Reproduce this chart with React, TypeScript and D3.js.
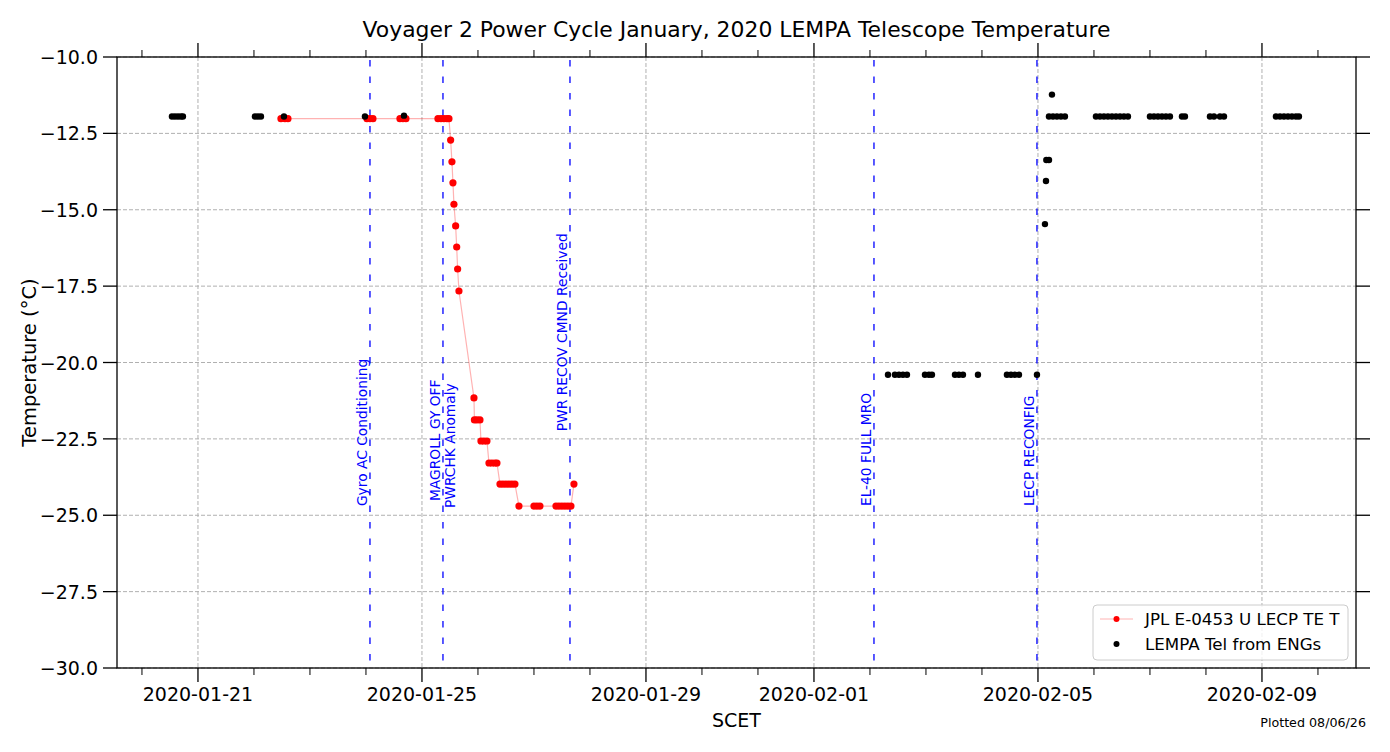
import * as d3 from 'd3';
import React from 'react';

// JPL E-0453 U LECP TE T (red, connected)
const jplTimes = [
  '2020-01-22T11:34', '2020-01-22T13:17', '2020-01-22T14:34',
  '2020-01-24T00:26', '2020-01-24T01:43', '2020-01-24T03:00',
  '2020-01-24T14:34', '2020-01-24T15:51', '2020-01-24T17:08',
  '2020-01-25T06:51', '2020-01-25T08:08', '2020-01-25T09:25', '2020-01-25T10:42', '2020-01-25T11:34',
  '2020-01-25T12:17', '2020-01-25T12:51', '2020-01-25T13:17', '2020-01-25T13:42',
  '2020-01-25T14:26', '2020-01-25T14:53', '2020-01-25T15:17', '2020-01-25T15:51',
  '2020-01-25T22:17', '2020-01-25T22:29', '2020-01-25T23:34', '2020-01-26T00:51',
  '2020-01-26T01:17', '2020-01-26T02:34', '2020-01-26T03:51',
  '2020-01-26T04:43', '2020-01-26T06:00', '2020-01-26T07:17', '2020-01-26T08:08',
  '2020-01-26T09:26', '2020-01-26T10:42', '2020-01-26T12:00', '2020-01-26T13:17', '2020-01-26T14:34', '2020-01-26T15:51',
  '2020-01-26T17:34',
  '2020-01-27T00:00', '2020-01-27T01:17', '2020-01-27T02:34',
  '2020-01-27T09:26', '2020-01-27T10:42', '2020-01-27T12:00', '2020-01-27T13:17', '2020-01-27T14:34', '2020-01-27T15:51',
  '2020-01-27T17:08',
];
const jplTemps = [
  -12.02, -12.02, -12.02,
  -12.02, -12.02, -12.02,
  -12.02, -12.02, -12.02,
  -12.02, -12.02, -12.02, -12.02, -12.02,
  -12.72, -13.43, -14.12, -14.82,
  -15.53, -16.22, -16.94, -17.66,
  -21.16, -21.88, -21.88, -21.88,
  -22.57, -22.57, -22.57,
  -23.29, -23.29, -23.29, -23.29,
  -23.98, -23.98, -23.98, -23.98, -23.98, -23.98,
  -24.7,
  -24.7, -24.7, -24.7,
  -24.7, -24.7, -24.7, -24.7, -24.7, -24.7,
  -23.98,
];

// LEMPA Tel from ENGs (black dots)
const engTimes = [
  '2020-01-20T12:51', '2020-01-20T14:08', '2020-01-20T15:26', '2020-01-20T16:43', '2020-01-20T17:34',
  '2020-01-22T00:26', '2020-01-22T01:43', '2020-01-22T03:00',
  '2020-01-22T12:51', '2020-01-23T23:34', '2020-01-24T16:17',
  '2020-02-02T07:43', '2020-02-02T10:42', '2020-02-02T12:26', '2020-02-02T14:08', '2020-02-02T15:51',
  '2020-02-02T23:34', '2020-02-03T01:17', '2020-02-03T02:34',
  '2020-02-03T12:26', '2020-02-03T14:08', '2020-02-03T15:51', '2020-02-03T22:17',
  '2020-02-04T10:42', '2020-02-04T12:26', '2020-02-04T14:08', '2020-02-04T15:51', '2020-02-04T23:34',
  '2020-02-05T03:00', '2020-02-05T03:26', '2020-02-05T03:35', '2020-02-05T04:43',
  '2020-02-05T04:43', '2020-02-05T06:00', '2020-02-05T06:26', '2020-02-05T08:08', '2020-02-05T09:51', '2020-02-05T11:34',
  '2020-02-06T00:51', '2020-02-06T02:34', '2020-02-06T04:17', '2020-02-06T06:00', '2020-02-06T07:43',
  '2020-02-06T09:26', '2020-02-06T11:09', '2020-02-06T12:51', '2020-02-06T14:34',
  '2020-02-07T00:00', '2020-02-07T01:43', '2020-02-07T03:26', '2020-02-07T05:09', '2020-02-07T06:51', '2020-02-07T08:34',
  '2020-02-07T13:43', '2020-02-07T15:00',
  '2020-02-08T01:43', '2020-02-08T03:26', '2020-02-08T06:00', '2020-02-08T07:43',
  '2020-02-09T06:00', '2020-02-09T07:43', '2020-02-09T09:26', '2020-02-09T11:09', '2020-02-09T12:51', '2020-02-09T14:34', '2020-02-09T15:51',
];
const engTemps = [
  -11.95, -11.95, -11.95, -11.95, -11.95,
  -11.95, -11.95, -11.95,
  -11.95, -11.95, -11.92,
  -20.4, -20.4, -20.4, -20.4, -20.4,
  -20.4, -20.4, -20.4,
  -20.4, -20.4, -20.4, -20.4,
  -20.4, -20.4, -20.4, -20.4, -20.4,
  -15.47, -14.06, -13.37, -13.37,
  -11.95, -11.23, -11.95, -11.95, -11.95, -11.95,
  -11.95, -11.95, -11.95, -11.95, -11.95,
  -11.95, -11.95, -11.95, -11.95,
  -11.95, -11.95, -11.95, -11.95, -11.95, -11.95,
  -11.95, -11.95,
  -11.95, -11.95, -11.95, -11.95,
  -11.95, -11.95, -11.95, -11.95, -11.95, -11.95, -11.95,
];

const eventTimes = ['2020-01-24T01:43', '2020-01-25T09:00', '2020-01-27T15:26', '2020-02-02T01:43', '2020-02-04T23:34'];
const eventLabels = [['Gyro AC Conditioning'], ['MAGROLL GY OFF', 'PWRCHK Anomaly'], ['PWR RECOV CMND Received'], ['EL-40 FULL MRO'], ['LECP  RECONFIG']];
const eventLabelAt = [-24.7, -24.7, -22.25, -24.7, -24.7];

const xTickDates = ['2020-01-21', '2020-01-25', '2020-01-29', '2020-02-01', '2020-02-05', '2020-02-09'];
const yTickValues = [-10, -12.5, -15, -17.5, -20, -22.5, -25, -27.5, -30];

const W = 1390;
const H = 752;
const M = { left: 117, right: 1356, top: 57, bottom: 668 };
const FONT = 'DejaVu Sans, sans-serif';
const TICK_FS = 19;

const parse = (s: string) => new Date(s.length === 10 ? s + 'T00:00Z' : s + 'Z');

export default function App() {
  const x = d3
    .scaleUtc()
    .domain([parse('2020-01-19T13:18'), parse('2020-02-10T16:18')])
    .range([M.left, M.right]);
  const y = d3.scaleLinear().domain([-30, -10]).range([M.bottom, M.top]);

  const majors = xTickDates.map(parse);
  const minors = d3.utcDay.range(x.domain()[0], x.domain()[1]).filter(
    (d) => !majors.some((m) => +m === +d)
  );

  const jpl = jplTimes.map((t, i) => [x(parse(t)), y(jplTemps[i])] as [number, number]);
  const eng = engTimes.map((t, i) => [x(parse(t)), y(engTemps[i])] as [number, number]);
  const line = d3.line();
  const fmt = (v: number) => d3.format('.1f')(v).replace('-', '\u2212');

  return (
    <svg width={W} height={H} style={{ position: 'absolute', left: 0, top: 0 }} fontFamily={FONT}>
      <rect width={W} height={H} fill="#fff" />
      {/* grid */}
      {majors.map((d, i) => (
        <line key={'gx' + i} x1={x(d)} x2={x(d)} y1={M.top} y2={M.bottom} stroke="#b0b0b0" strokeDasharray="4,2" strokeWidth={1} />
      ))}
      {yTickValues.map((v, i) => (
        <line key={'gy' + i} x1={M.left} x2={M.right} y1={y(v)} y2={y(v)} stroke="#b0b0b0" strokeDasharray="4,2" strokeWidth={1} />
      ))}
      {/* event lines */}
      {eventTimes.map((t, i) => {
        const ex = x(parse(t));
        return (
          <g key={'ev' + i}>
            <line x1={ex} x2={ex} y1={M.top} y2={M.bottom} stroke="#0000ff" strokeWidth={1.3} strokeDasharray="6.5,10" strokeDashoffset={-3} />
            {eventLabels[i].map((lab, j) => {
              const n = eventLabels[i].length;
              const bx = n === 1 ? ex - 3 : ex - 3 + (j === 0 ? 0 : 15);
              const by = y(eventLabelAt[i]) + (n === 1 ? 0 : j === 0 ? -5 : 2);
              return (
                <text key={j} transform={`translate(${bx},${by}) rotate(-90)`} fill="#0000ff" fontSize={13.8}>
                  {lab}
                </text>
              );
            })}
          </g>
        );
      })}
      {/* series */}
      <path d={line(jpl) || ''} fill="none" stroke="rgba(255,0,0,0.3)" strokeWidth={1.2} />
      {jpl.map((p, i) => (
        <circle key={'j' + i} cx={p[0]} cy={p[1]} r={3.6} fill="#ff0000" />
      ))}
      {eng.map((p, i) => (
        <circle key={'e' + i} cx={p[0]} cy={p[1]} r={3.2} fill="#000" />
      ))}
      {/* spines */}
      <rect x={M.left} y={M.top} width={M.right - M.left} height={M.bottom - M.top} fill="none" stroke="#000" strokeWidth={1.3} />
      {/* x ticks bottom & top */}
      {majors.map((d, i) => (
        <g key={'xt' + i}>
          <line x1={x(d)} x2={x(d)} y1={M.bottom} y2={M.bottom + 14} stroke="#000" strokeWidth={1.3} />
          <line x1={x(d)} x2={x(d)} y1={M.top} y2={M.top - 14} stroke="#000" strokeWidth={1.3} />
          <text x={x(d)} y={M.bottom + 33} textAnchor="middle" fontSize={TICK_FS}>
            {d3.utcFormat('%Y-%m-%d')(d)}
          </text>
        </g>
      ))}
      {minors.map((d, i) => (
        <g key={'xm' + i}>
          <line x1={x(d)} x2={x(d)} y1={M.bottom} y2={M.bottom + 7} stroke="#000" strokeWidth={1} />
          <line x1={x(d)} x2={x(d)} y1={M.top} y2={M.top - 7} stroke="#000" strokeWidth={1} />
        </g>
      ))}
      {/* y ticks left & right */}
      {yTickValues.map((v, i) => (
        <g key={'yt' + i}>
          <line x1={M.left} x2={M.left - 14} y1={y(v)} y2={y(v)} stroke="#000" strokeWidth={1.3} />
          <line x1={M.right} x2={M.right + 14} y1={y(v)} y2={y(v)} stroke="#000" strokeWidth={1.3} />
          <text x={M.left - 19} y={y(v) + 7} textAnchor="end" fontSize={TICK_FS}>
            {fmt(v)}
          </text>
        </g>
      ))}
      {/* titles */}
      <text x={(M.left + M.right) / 2} y={37} textAnchor="middle" fontSize={21.9}>
        Voyager 2 Power Cycle January, 2020 LEMPA Telescope Temperature
      </text>
      <text x={(M.left + M.right) / 2} y={727} textAnchor="middle" fontSize={TICK_FS}>
        SCET
      </text>
      <text transform={`translate(36,${(M.top + M.bottom) / 2}) rotate(-90)`} textAnchor="middle" fontSize={19.5}>
        Temperature (°C)
      </text>
      <text x={1366} y={727} textAnchor="end" fontSize={12.7}>
        Plotted 08/06/26
      </text>
      {/* legend */}
      <g>
        <rect x={1093} y={605} width={255} height={55} rx={4} fill="rgba(255,255,255,0.8)" stroke="#cccccc" strokeWidth={1} />
        <line x1={1100} x2={1133} y1={619} y2={619} stroke="rgba(255,0,0,0.3)" strokeWidth={1.2} />
        <circle cx={1116.5} cy={619} r={3} fill="#ff0000" />
        <text x={1145} y={625} fontSize={16.7}>JPL E-0453 U LECP TE T</text>
        <circle cx={1116.5} cy={644} r={3} fill="#000" />
        <text x={1145} y={650} fontSize={16.7}>LEMPA Tel from ENGs</text>
      </g>
    </svg>
  );
}
